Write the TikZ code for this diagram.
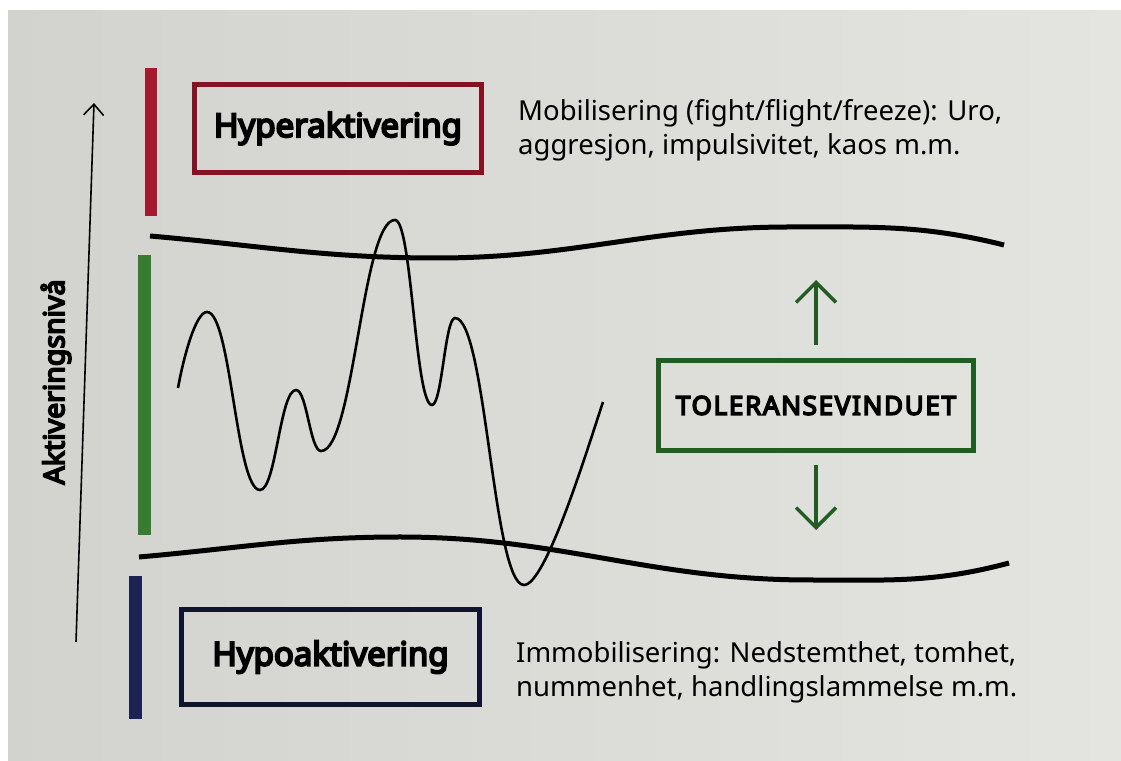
\documentclass[tikz,border=0pt]{standalone}
\usepackage{fontspec}
\setmainfont{Noto Sans}[AutoFakeBold=6]
\usetikzlibrary{arrows.meta}
\definecolor{hyperred}{RGB}{165,26,46}
\definecolor{hyperframe}{RGB}{132,18,32}
\definecolor{bargreen}{RGB}{56,124,50}
\definecolor{windowgreen}{RGB}{34,92,34}
\definecolor{hypoblue}{RGB}{28,34,82}
\definecolor{hypoframe}{RGB}{16,20,46}
\definecolor{pagelight}{RGB}{228,228,225}
\definecolor{pagedark}{RGB}{210,210,206}
\begin{document}
\begin{tikzpicture}[x=1pt,y=1pt,
		boxlabel/.style={font=\fontsize{33}{38}\selectfont\bfseries, inner sep=0pt},
		note/.style={font=\fontsize{27.5}{34}\selectfont, align=left, anchor=west, inner sep=0pt},
		window/.style={-{Straight Barb[length=20pt,width=40pt]}, windowgreen, line width=3.5pt},
		limit/.style={line width=5pt}]
	\useasboundingbox (0,0) rectangle (1121,760);
	\fill[white] (0,0) rectangle (1121,760);
	\shade[left color=pagedark, right color=pagelight] (8,0) rectangle (1121,749);

	\coordinate (axisfoot) at (76,118);
	\coordinate (axistop) at (94,657);
	\draw[-{Straight Barb[length=11pt,width=20pt]}, line width=1.6pt] (axisfoot) -- (axistop);
	\node[rotate=90, font=\fontsize{28.5}{32}\selectfont\bfseries] (axislabel) at (56,378) {Aktiveringsnivå};

	\fill[hyperred] (145,544) rectangle (157,692);
	\fill[bargreen] (138,225) rectangle (151,505);
	\fill[hypoblue] (129,41) rectangle (142,184);

	\node[boxlabel, draw=hyperframe, line width=5pt, minimum width=287pt, minimum height=88pt] (hyper) at (338,631.5) {Hyperaktivering};
	\node[boxlabel, draw=hypoframe, line width=5pt, minimum width=298pt, minimum height=95pt] (hypo) at (330.5,103) {Hypoaktivering};
	\node[font=\fontsize{26}{30}\selectfont\bfseries\addfontfeature{LetterSpace=6.5}, inner sep=0pt, draw=windowgreen, line width=4.5pt, minimum width=315pt, minimum height=90pt] (tol) at (816,354.5) {TOLERANSEVINDUET};

	\node[note] (mobil) at (518,630) {Mobilisering (fight/flight/freeze): Uro,\\aggresjon, impulsivitet, kaos m.m.};
	\node[note] (immobil) at (516,88) {Immobilisering: Nedstemthet, tomhet,\\nummenhet, handlingslammelse m.m.};

	\draw[limit] (150,524) to[out=-5,in=180] (437,502) to[out=0,in=180] (790,533) to[out=0,in=166] (1004,515);
	\draw[limit] (139,203) to[out=5,in=180] (400,223) to[out=0,in=180] (810,180) to[out=0,in=195] (1009,197);

	\draw[line width=2.6pt] (178,372) .. controls (184,405) and (196,448) .. (207,448)
		.. controls (231,448) and (236,270) .. (260,270)
		.. controls (276,270) and (280,370) .. (296,370)
		.. controls (307,370) and (310,309) .. (321,309)
		.. controls (354,309) and (362,540) .. (395,540)
		.. controls (412,540) and (415,355) .. (432,355)
		.. controls (442,355) and (445,442) .. (455,442)
		.. controls (486,442) and (493,175) .. (524,175)
		.. controls (546,175) and (588,313) .. (603,358);

	\coordinate (uptip) at (816,480);
	\coordinate (downtip) at (816,230);
	\draw[window, shorten <=13pt] (tol.north) -- (uptip);
	\draw[window, shorten <=12pt] (tol.south) -- (downtip);
\end{tikzpicture}
\end{document}
